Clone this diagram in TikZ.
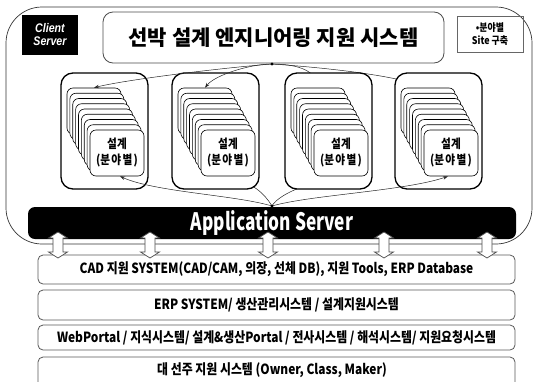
\documentclass[tikz,border=0pt]{standalone}
\usepackage{fontspec}
\newfontfamily\kr{Noto Sans CJK KR}[FakeStretch=0.85, BoldFont={Noto Sans CJK KR Black}]
\newfontfamily\krw{Noto Sans CJK KR}[BoldFont={Noto Sans CJK KR Black}]
\newfontfamily\krc{Noto Sans CJK KR}[FakeStretch=0.72]
\newfontfamily\csf{Liberation Sans}[FakeStretch=0.85]
\usetikzlibrary{arrows.meta}
\begin{document}
\begin{tikzpicture}[x=1pt,y=-1pt,
  frame/.style={draw=black!80, line width=0.7pt, rounded corners=36pt, inner sep=0},
  titlebox/.style={draw=black!70, line width=0.8pt, rounded corners=10pt, fill=white, inner sep=0},
  group/.style={draw=black, line width=1.3pt, rounded corners=12pt, fill=white, minimum width=87pt, minimum height=116pt, inner sep=0},
  card/.style={draw=black, line width=0.6pt, rounded corners=6pt, fill=white, minimum width=54pt, minimum height=46pt, inner sep=0, align=center},
  cardtext/.style={font=\kr\bfseries\fontsize{12.5}{16}\selectfont},
  layerfont/.style={font=\kr\bfseries\fontsize{14}{15}\selectfont},
  layer/.style={draw=black!65, line width=0.8pt, rounded corners=5pt, fill=white, minimum width=477pt, inner sep=0, layerfont},
  link/.style={draw=black!85, line width=0.5pt},
  arr/.style={link, -{Stealth[length=5pt,width=3.5pt]}},
  dbl/.style={draw=black!70, line width=0.7pt, fill=white},
]
\useasboundingbox (0,0) rectangle (535,381);

% outer client-server frame
\node[frame, minimum width=526pt, minimum height=237pt] (outer) at (269,125.5) {};

% client server label
\node[fill=black, minimum width=56pt, minimum height=40pt, inner sep=0, text=white, align=center,
      font=\csf\bfseries\itshape\fontsize{12.5}{13}\selectfont] (client) at (50,35) {Client\\Server};

% title
\node[titlebox, minimum width=341pt, minimum height=51pt, font=\krw\bfseries\fontsize{21}{22}\selectfont] (title) at (273.5,37.5) {선박 설계 엔지니어링 지원 시스템};

% site box
\node[draw=black!60, line width=0.7pt, minimum width=66pt, minimum height=36pt, inner sep=0, align=center,
      font=\kr\bfseries\fontsize{10.5}{12.5}\selectfont] (site) at (490,34) {•분야별\\Site 구축};

\coordinate (ts) at (272,64);

% application server
\node[fill=black, rounded corners=7pt, minimum width=488pt, minimum height=32pt, inner sep=0, text=white,
      font=\krc\bfseries\fontsize{24}{26}\selectfont] (as) at (272,223) {Application Server};
\coordinate (ap) at (272,206);

% hidden connectors (behind groups)
\coordinate (t3) at (318,88);
\coordinate (t4) at (428,88);
\coordinate (b2) at (229,176);
\coordinate (b3) at (341,176);
\draw[link] (ts) .. controls (300,64) and (318,72) .. (t3);
\draw[link] (ts) .. controls (330,68) and (400,76) .. (t4);
\draw[link] (ap) .. controls (264,193) and (254,184) .. (b2);
\draw[link] (ap) .. controls (279,193) and (316,180) .. (b3);

% groups with stacked cards
\foreach \i/\gx in {1/61,2/172,3/285,4/395} {
  \node[group] (g\i) at (\gx+43.5,131) {};
  \foreach \k in {0,...,7} {
    \node[card] (c\i-\k) at (\gx+33+\k*2.875, 111+\k*5.25) {};
  }
  \node[card, cardtext] (f\i) at (\gx+56, 153) {설계\\(\addfontfeature{LetterSpace=10}분야별)};
}

% visible connectors
\draw[arr] (ts) .. controls (220,68) and (124,80) .. (c1-0.north);
\draw[arr] (ts) .. controls (250,64) and (215,75) .. (c2-0.north);
\draw[arr] (ap) .. controls (235,195) and (155,192) .. ([xshift=3pt]f1.south);
\draw[arr] (ap) .. controls (310,195) and (405,191) .. ([xshift=-3pt]f4.south);
\fill (ts) circle (1.6pt);
\fill (ap) circle (1.6pt);

% layers
\node[layer, minimum height=29pt] (l1) at (276.5,269.5) {CAD 지원 SYSTEM(CAD/CAM, 의장, 선체 DB), 지원 Tools, ERP Database};
\node[layer, minimum height=30pt] (l2) at (276.5,305) {ERP SYSTEM/ 생산관리시스템 / 설계지원시스템};
\node[layer, minimum height=25pt] (l3) at (276.5,337.5) {WebPortal / 지식시스템/ 설계\&생산Portal / 전사시스템 / 해석시스템/ 지원요청시스템};
\node[layer, minimum height=38pt] (l4) at (276.5,376) {};
\node[layerfont, inner sep=0] (l4t) at (272,370.5) {대 선주 지원 시스템 (Owner, Class, Maker)};

% double arrows between application server and layers
\foreach \x in {58,150,268,384,487} {
  \draw[dbl] (\x,232) -- (\x+9.5,238) -- (\x+5,238) -- (\x+5,252) -- (\x+9.5,252) -- (\x,258)
        -- (\x-9.5,252) -- (\x-5,252) -- (\x-5,238) -- (\x-9.5,238) -- cycle;
}
\end{tikzpicture}
\end{document}
